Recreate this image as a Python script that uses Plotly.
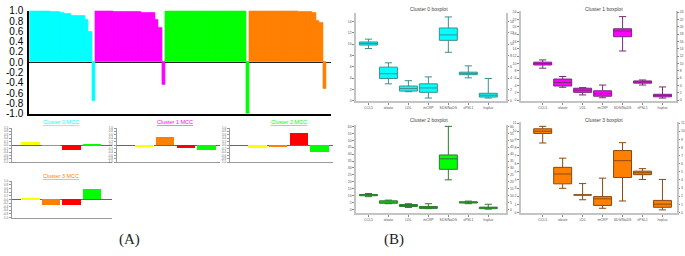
import plotly.graph_objects as go

W, H = 685, 256

# ---------------- DATA ----------------
# Silhouette values per cluster (sorted, last one negative)
sil_c0 = [1.0, 1.0, 1.0, 1.0, 1.0, 0.998, 0.99, 0.985, 0.975, 0.965, 0.95, 0.935,
          0.905, 0.9, 0.9, 0.895, 0.83, 0.6, -0.75]
sil_c1 = [1.0, 1.0, 1.0, 1.0, 0.995, 0.99, 0.99, 0.985, 0.985, 0.98, 0.978, 0.975,
          0.972, 0.97, 0.965, 0.962, 0.955, 0.83, 0.67, -0.43]
sil_c2 = [1.0] * 23 + [-1.0]
sil_c3 = [1.0, 1.0, 1.0, 1.0, 1.0, 1.0, 1.0, 1.0, 1.0, 1.0, 1.0, 1.0, 1.0, 1.0,
          0.99, 0.985, 0.98, 0.978, 0.97, 0.8, 0.76, -0.52]
sil_ticks = [1.0, 0.8, 0.6, 0.4, 0.2, 0.0, -0.2, -0.4, -0.6, -0.8, -1.0]

# MCC values (4 bars per cluster)
mcc_c0 = [0.2, -0.02, -0.3, 0.07]
mcc_c1 = [-0.07, 0.45, -0.15, -0.26]
mcc_c2 = [-0.19, -0.1, 0.68, -0.38]
mcc_c3 = [0.05, -0.32, -0.3, 0.54]
mcc_titles = ["Cluster 0 MCC", "Cluster 1 MCC", "Cluster 2 MCC", "Cluster 3 MCC"]

# Boxplot stats
box_names = ["CCL5", "oleate", "LDL", "mCRP", "SDS/NaDS", "sPSL1", "hsplus"]
c0_low = [9.24, 2.97, 1.57, 0.45, 8.57, 4.03, 0.45]
c0_q1 = [9.85, 3.92, 1.68, 1.46, 10.69, 4.59, 0.62]
c0_med = [10.13, 4.76, 2.13, 2.24, 11.65, 4.82, 0.95]
c0_q3 = [10.4, 5.93, 2.58, 2.97, 12.88, 5.04, 1.29]
c0_high = [10.9, 6.7, 3.53, 4.2, 14.84, 6.16, 3.92]

c1_low = [8.7, 3.48, 1.39, 0.61, 13.4, 4.09, 0.52]
c1_q1 = [9.57, 3.83, 2.09, 1.04, 17.3, 4.61, 0.87]
c1_med = [10.0, 4.78, 2.7, 1.74, 18.87, 4.96, 1.22]
c1_q3 = [10.35, 5.74, 3.22, 2.52, 19.48, 5.22, 1.57]
c1_high = [10.96, 6.43, 3.39, 4.09, 22.8, 5.48, 3.57]

c2_low = [9.2, 4.1, 1.4, 0.5, 21.4, 4.1, 0.2]
c2_q1 = [9.9, 4.4, 2.1, 0.7, 29.0, 4.6, 0.5]
c2_med = [10.4, 5.3, 2.8, 1.4, 36.6, 5.1, 1.2]
c2_q3 = [10.8, 6.2, 3.5, 2.1, 39.4, 5.5, 1.6]
c2_high = [11.5, 6.7, 4.1, 4.1, 60.1, 6.0, 3.7]

c3_low = [8.55, 2.97, 1.56, 0.51, 1.41, 4.06, 0.31]
c3_q1 = [9.73, 3.52, 2.15, 0.86, 4.3, 4.65, 0.63]
c3_med = [10.0, 4.73, 2.15, 1.68, 6.37, 4.88, 1.02]
c3_q3 = [10.3, 5.55, 2.15, 1.95, 7.62, 5.08, 1.48]
c3_high = [10.6, 6.68, 3.55, 4.22, 8.59, 5.39, 4.06]
box_titles = ["Cluster 0 boxplot", "Cluster 1 boxplot", "Cluster 2 boxplot", "Cluster 3 boxplot"]

# ---------------- STYLE ----------------
CYAN, MAGENTA, GREEN, ORANGE = "#00FFFF", "#FF00FF", "#00FF00", "#FF8000"
cluster_colors = [CYAN, MAGENTA, GREEN, ORANGE]
mcc_colors = ["#FFFF00", "#FF8000", "#FF0000", "#00FF00"]


def xd(a, b):
    return [a / W, b / W]


def yd(top, bottom):
    return [1 - bottom / H, 1 - top / H]


fig = go.Figure()
layout = dict(width=W, height=H, margin=dict(l=0, r=0, t=0, b=0),
              paper_bgcolor="white", plot_bgcolor="white", showlegend=False,
              bargap=0, font=dict(family="Liberation Sans"))

# ---------- Silhouette ----------
sil_all = [sil_c0, sil_c1, sil_c2, sil_c3]
xs, ys, cs = [], [], []
idx = 0
for vals, col in zip(sil_all, cluster_colors):
    for v in vals:
        xs.append(idx)
        ys.append(v)
        cs.append(col)
        idx += 1
fig.add_trace(go.Bar(x=xs, y=ys, width=1.0,
                     marker=dict(color=cs, line=dict(width=0.6, color=cs)),
                     xaxis="x", yaxis="y"))
layout["xaxis"] = dict(domain=xd(29.3, 331), range=[-0.5, 85.7], showticklabels=False,
                       showgrid=False, zeroline=False, showline=True, linecolor="black",
                       linewidth=1.5, anchor="y", ticks="")
layout["yaxis"] = dict(domain=yd(5, 113), range=[-1, 1], tickvals=sil_ticks,
                       ticktext=["%.1f" % t for t in sil_ticks], showgrid=False,
                       zeroline=True, zerolinecolor="#222", zerolinewidth=1,
                       showline=True, linecolor="black", linewidth=2, anchor="x",
                       ticks="", tickfont=dict(size=10, color="black"), ticklabelstandoff=2)

# ---------- MCC ----------
mcc_all = [mcc_c0, mcc_c1, mcc_c2, mcc_c3]
mcc_x = [(11.7, 111.7), (116.7, 220), (230, 333.3), (11.7, 111.7)]
mcc_y = [(128, 164), (128, 164), (128, 164), (184, 222)]
mcc_rng = [[-0.89, 3.95], [-1.33, 3.67], [-1.32, 3.65], [-0.89, 3.95]]
mcc_title_pos = [(60.8, 122), (175, 122), (289, 122), (60.8, 178.3)]
mcc_ticks = [1.0, 0.8, 0.6, 0.4, 0.2, 0.0, -0.2, -0.4, -0.6, -0.8, -1.0]
annotations = []
for k in range(4):
    n = k + 2
    fig.add_trace(go.Bar(x=list(range(len(mcc_all[k]))), y=mcc_all[k], width=0.89,
                         marker=dict(color=mcc_colors, line=dict(width=0)),
                         xaxis="x%d" % n, yaxis="y%d" % n))
    layout["xaxis%d" % n] = dict(domain=xd(*mcc_x[k]), range=mcc_rng[k], showticklabels=False,
                                 showgrid=False, zeroline=False, showline=True,
                                 linecolor="#9a9a9a", linewidth=1, anchor="y%d" % n, ticks="")
    layout["yaxis%d" % n] = dict(domain=yd(*mcc_y[k]), range=[-1, 1], tickvals=mcc_ticks,
                                 ticktext=["%.1f" % t for t in mcc_ticks], showgrid=False,
                                 zeroline=True, zerolinecolor="#666", zerolinewidth=1,
                                 showline=True, linecolor="#9a9a9a", linewidth=1,
                                 anchor="x%d" % n, ticks="outside", ticklen=2,
                                 tickcolor="#999", tickwidth=0.5,
                                 tickfont=dict(size=3, color="#666"))
    tx, ty = mcc_title_pos[k]
    annotations.append(dict(x=tx / W, y=1 - ty / H, xref="paper", yref="paper",
                            xanchor="center", yanchor="middle",
                            text="<u>%s</u>" % mcc_titles[k], showarrow=False,
                            font=dict(size=5.5, color=cluster_colors[k],
                                      family="Liberation Sans")))

# ---------- Boxplots ----------
box_stats = [
    (c0_low, c0_q1, c0_med, c0_q3, c0_high),
    (c1_low, c1_q1, c1_med, c1_q3, c1_high),
    (c2_low, c2_q1, c2_med, c2_q3, c2_high),
    (c3_low, c3_q1, c3_med, c3_q3, c3_high),
]
box_x = [(356.7, 506.7), (521.7, 676.7), (356.7, 506.7), (521.7, 678)]
box_y = [(7, 99.8), (5, 99.4), (124.7, 216.7), (122, 217)]
box_yr = [[-0.1, 15.6], [-0.2, 24.4], [-2.3, 61.2], [-0.05, 11.1]]
box_xr = [[-0.615, 6.885], [-1.09, 6.66], [-0.615, 6.885], [-1.09, 6.73]]
box_dt = [2, 2, 5, 1]
box_tmax = [14, 24, 60, 11]
box_title_pos = [(430, 3), (605, 3), (430, 120), (605, 120)]
line_cols = ["#3f8f8f", "#7a2a7a", "#2f7a2f", "#8a4a10"]
for k in range(4):
    n = k + 6
    lo, q1, md, q3, hi = box_stats[k]
    fig.add_trace(go.Box(x=box_names, q1=q1, median=md, q3=q3, lowerfence=lo, upperfence=hi,
                         fillcolor=cluster_colors[k], line=dict(color=line_cols[k], width=1),
                         width=0.9, whiskerwidth=0.4, boxpoints=False,
                         xaxis="x%d" % n, yaxis="y%d" % n))
    tv = list(range(0, box_tmax[k] + 1, box_dt[k]))
    layout["xaxis%d" % n] = dict(domain=xd(*box_x[k]), range=box_xr[k], type="category",
                                 showgrid=False, zeroline=False, showline=True,
                                 linecolor="#c4c4c4", linewidth=2, anchor="y%d" % n,
                                 ticks="outside", ticklen=2, tickcolor="#888", tickwidth=0.5,
                                 tickfont=dict(size=3.5, color="#555"))
    layout["yaxis%d" % n] = dict(domain=yd(*box_y[k]), range=box_yr[k], tickvals=tv,
                                 showgrid=False, zeroline=False, showline=True,
                                 linecolor="#c4c4c4", linewidth=1.5, anchor="x%d" % n,
                                 ticks="outside", ticklen=2, tickcolor="#888", tickwidth=0.5,
                                 tickfont=dict(size=3.5, color="#555"))
    m = k + 10
    fig.add_trace(go.Scatter(x=[], y=[], xaxis="x%d" % n, yaxis="y%d" % m,
                             hoverinfo="skip"))
    layout["yaxis%d" % m] = dict(overlaying="y%d" % n, side="right", range=box_yr[k],
                                 tickvals=tv, showgrid=False, zeroline=False, showline=True,
                                 linecolor="#c4c4c4", linewidth=1.5, anchor="x%d" % n,
                                 ticks="outside", ticklen=1.5, tickcolor="#888", tickwidth=0.5,
                                 ticklabelstandoff=0,
                                 tickfont=dict(size=3.5, color="#555"))
    tx, ty = box_title_pos[k]
    annotations.append(dict(x=tx / W, y=1 - ty / H, xref="paper", yref="paper",
                            xanchor="center", yanchor="middle",
                            text=box_titles[k], showarrow=False,
                            font=dict(size=5, color="#444", family="Liberation Sans")))

# Panel labels
annotations.append(dict(x=130 / W, y=1 - 245 / H, xref="paper", yref="paper", text="(A)",
                        xanchor="center", yanchor="middle",
                        showarrow=False, font=dict(size=15, color="#222",
                                                   family="Liberation Serif")))
annotations.append(dict(x=395 / W, y=1 - 245 / H, xref="paper", yref="paper", text="(B)",
                        xanchor="center", yanchor="middle",
                        showarrow=False, font=dict(size=15, color="#222",
                                                   family="Liberation Serif")))
layout["annotations"] = annotations

fig.update_layout(**layout)
fig.write_html("out.html", config={"displayModeBar": False},
               post_script="document.body.style.margin='0px';")
